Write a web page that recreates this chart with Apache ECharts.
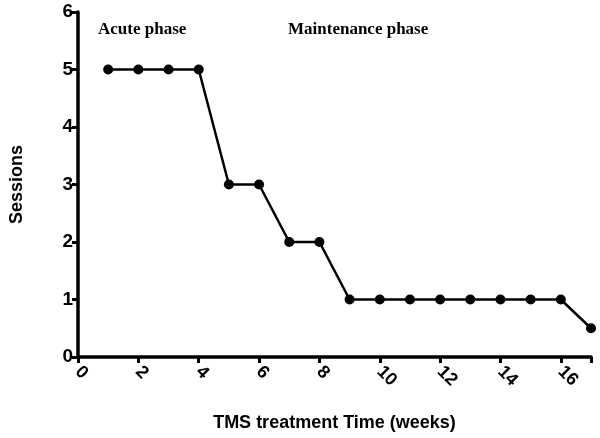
<!DOCTYPE html><html><head><meta charset="utf-8"><script src="https://cdn.jsdelivr.net/npm/echarts@6/dist/echarts.min.js"></script></head><body style="margin:0"><div id="c" style="width:600px;height:438px"></div><script>
const weeks=[1,2,3,4,5,6,7,8,9,10,11,12,13,14,15,16,17];
const sessions=[5,5,5,5,3,3,2,2,1,1,1,1,1,1,1,1,0.5];
const xTicks=[0,2,4,6,8,10,12,14,16];
const ch=echarts.init(document.getElementById('c'));
ch.setOption({animation:false,
grid:{left:74,right:9,top:12,bottom:81},
xAxis:{type:'value',min:0,max:17,interval:2,name:'TMS treatment Time (weeks)',nameLocation:'middle',nameGap:57,
nameTextStyle:{fontFamily:'Liberation Sans',fontWeight:'bold',fontSize:18,color:'#000'},
axisLine:{lineStyle:{color:'#000',width:3.5}},axisTick:{lineStyle:{color:'#000',width:3},length:6},splitLine:{show:false},
axisLabel:{rotate:-45,fontFamily:'Liberation Sans',fontWeight:'bold',fontSize:18,color:'#000',margin:12,formatter:v=>xTicks.includes(v)?String(v):''}},
yAxis:{type:'value',min:0,max:6,interval:1,name:'Sessions',nameLocation:'middle',nameGap:52,
nameTextStyle:{fontFamily:'Liberation Sans',fontWeight:'bold',fontSize:18,color:'#000'},
axisLine:{show:true,lineStyle:{color:'#000',width:3.5}},axisTick:{show:true,lineStyle:{color:'#000',width:3},length:6},splitLine:{show:false},
axisLabel:{fontFamily:'Liberation Sans',fontWeight:'bold',fontSize:19,color:'#000',margin:5}},
series:[{type:'line',data:weeks.map((w,i)=>[w,sessions[i]]),symbol:'circle',symbolSize:10,
lineStyle:{color:'#000',width:2.5},itemStyle:{color:'#000'}}],
graphic:[{type:'text',left:98,top:21,style:{text:'Acute phase',font:'bold 17px "Liberation Serif"',fill:'#000'}},
{type:'text',left:288,top:21,style:{text:'Maintenance phase',font:'bold 17px "Liberation Serif"',fill:'#000'}}]
});
</script></body></html>
